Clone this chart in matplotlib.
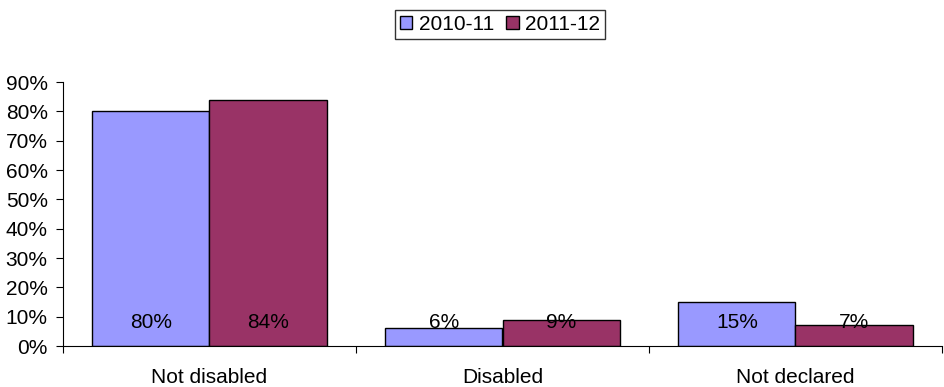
import matplotlib.pyplot as plt
import numpy as np
from matplotlib.ticker import PercentFormatter

categories = ['Not disabled', 'Disabled', 'Not declared']
series_names = ['2010-11', '2011-12']
values_2010 = [80, 6, 15]
values_2011 = [84, 9, 7]
label_2010 = ['80%', '6%', '15%']
label_2011 = ['84%', '9%', '7%']

plt.rcParams['font.family'] = ['Liberation Sans', 'DejaVu Sans']


def main():
    fig = plt.figure(figsize=(9.45, 3.87), dpi=100)
    ax = fig.add_axes([63 / 945, 41 / 387, (942 - 63) / 945, (346 - 82) / 387])

    fs = 15
    x = np.arange(len(categories))
    w = 0.4
    colors = ['#9999ff', '#993366']
    for i, (vals, labs) in enumerate([(values_2010, label_2010), (values_2011, label_2011)]):
        pos = x - w / 2 + i * w
        ax.bar(pos, vals, width=w, color=colors[i], edgecolor='black',
               linewidth=1.0, label=series_names[i])
        for p, lab in zip(pos, labs):
            ax.annotate(lab, xy=(p, 0), xytext=(0, 17), textcoords='offset points',
                        ha='center', va='center', fontsize=fs)

    ax.set_xlim(-0.5, len(categories) - 0.5)
    ax.set_ylim(0, 90)
    ax.set_yticks(np.arange(0, 91, 10))
    ax.yaxis.set_major_formatter(PercentFormatter(decimals=0))
    ax.set_xticks(np.arange(-0.5, len(categories), 1.0))
    ax.set_xticklabels([])
    ax.set_xticks(x, minor=True)
    ax.set_xticklabels(categories, minor=True)
    ax.tick_params(axis='x', which='minor', length=0, pad=16, labelsize=fs)
    ax.tick_params(axis='x', which='major', length=5, direction='out')
    ax.tick_params(axis='y', length=5, direction='out', labelsize=fs, pad=6)

    for s in ['top', 'right']:
        ax.spines[s].set_visible(False)

    leg = fig.legend(loc='upper center', bbox_to_anchor=(500 / 945, 1 - 10 / 387), ncol=2,
                     fontsize=fs, frameon=True, fancybox=False, edgecolor='black',
                     handlelength=0.6, handleheight=0.6, handletextpad=0.3,
                     columnspacing=0.6, borderpad=0.25, borderaxespad=0)
    leg.get_frame().set_linewidth(1.0)

    fig.savefig('out.png', dpi=100)


if __name__ == '__main__':
    main()
